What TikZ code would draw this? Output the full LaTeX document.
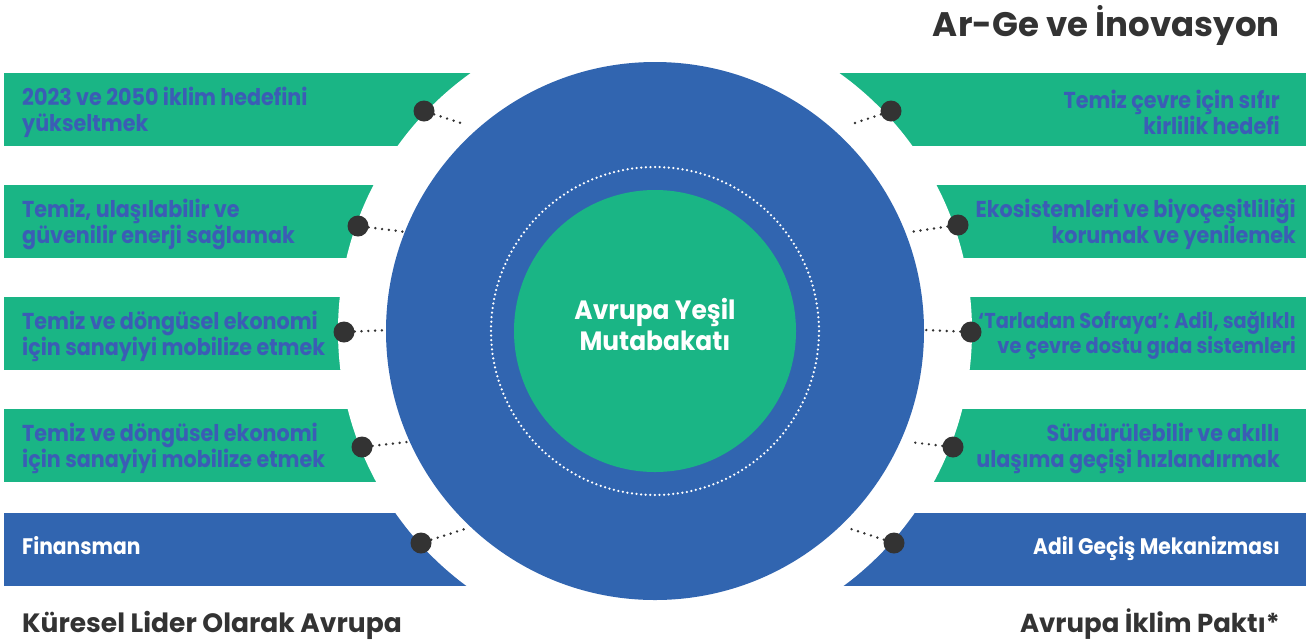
\documentclass[tikz,border=0pt]{standalone}
\usepackage{fontspec}
\setmainfont{Poppins}
\newfontfamily\bannerfont{Poppins}[FakeStretch=0.9]
\newfontfamily\centerfont{Poppins}[FakeStretch=0.94]
\definecolor{bgreen}{HTML}{1AB585}
\definecolor{bblue}{HTML}{3165B0}
\definecolor{tblue}{HTML}{3B5DB5}
\definecolor{dark}{HTML}{333333}
\begin{document}
\begin{tikzpicture}[x=1pt,y=-1pt,
  dotn/.style={circle,fill=dark,inner sep=0pt,minimum size=21pt},
  dotline/.style={draw=dark,line width=2.7pt,line cap=round,dash pattern=on 0pt off 6.8pt},
  gtext/.style={inner sep=0pt,text=tblue,font=\bannerfont\bfseries\fontsize{23}{26}\selectfont},
  wtext/.style={inner sep=0pt,text=white,font=\bannerfont\bfseries\fontsize{22.5}{26}\selectfont},
  head/.style={inner sep=0pt,text=dark,font=\bfseries\fontsize{26.5}{30}\selectfont}]
\useasboundingbox (0,0) rectangle (1309,641);
% banners
\fill[bgreen] (4,73) rectangle (1306,146);
\fill[bgreen] (4,185) rectangle (1306,258);
\fill[bgreen] (4,297) rectangle (1306,370);
\fill[bgreen] (4,409) rectangle (1306,482);
\fill[bblue] (4,513) rectangle (1306,586);
% white gap
\node[circle,fill=white,inner sep=0pt,minimum size=634pt] (gap) at (655,331) {};
% dots
\node[dotn] (l1) at (424,111) {};
\node[dotn] (l2) at (358,226) {};
\node[dotn] (l3) at (344,332) {};
\node[dotn] (l4) at (362,447) {};
\node[dotn] (l5) at (421,543) {};
\node[dotn] (r1) at (891,111) {};
\node[dotn] (r2) at (958,225) {};
\node[dotn] (r3) at (971,332) {};
\node[dotn] (r4) at (953,447) {};
\node[dotn] (r5) at (894,543) {};
\coordinate (el1) at (464,124);
\coordinate (el2) at (406,232);
\coordinate (el3) at (388,330);
\coordinate (el4) at (407,442);
\coordinate (el5) at (468,528);
\coordinate (er1) at (852,124);
\coordinate (er2) at (910,232);
\coordinate (er3) at (926,330);
\coordinate (er4) at (909,442);
\coordinate (er5) at (848,528);
\foreach \i in {1,...,5}{
  \draw[dotline] (l\i) -- (el\i);
  \draw[dotline] (r\i) -- (er\i);
}
% circles
\node[circle,fill=bblue,inner sep=0pt,minimum size=538pt] (big) at (655,331) {};
\node[circle,draw=white,line width=2.5pt,line cap=round,dash pattern=on 0pt off 4.6pt,inner sep=0pt,minimum size=328pt] (ring) at (655,331) {};
\node[circle,fill=bgreen,inner sep=0pt,minimum size=282pt] (core) at (655,331) {};
\node[inner sep=0pt,text=white,align=center,font=\centerfont\bfseries\fontsize{26.5}{31}\selectfont] (title) at (655,324) {Avrupa Yeşil\\Mutabakatı};
% banner texts
\node[gtext,anchor=west,align=left] (t1) at (22,112) {2023 ve 2050 iklim hedefini\\yükseltmek};
\node[gtext,anchor=west,align=left] (t2) at (22,224) {Temiz, ulaşılabilir ve\\güvenilir enerji sağlamak};
\node[gtext,anchor=west,align=left] (t3) at (22,336) {Temiz ve döngüsel ekonomi\\için sanayiyi mobilize etmek};
\node[gtext,anchor=west,align=left] (t4) at (22,448) {Temiz ve döngüsel ekonomi\\için sanayiyi mobilize etmek};
\node[wtext,anchor=base west] (t5) at (22,554) {Finansman};
\node[gtext,anchor=east,align=right] (u1) at (1280,112) {Temiz çevre için sıfır\\kirlilik hedefi};
\node[gtext,anchor=east,align=right] (u2) at (1296,224) {Ekosistemleri ve biyoçeşitliliği\\korumak ve yenilemek};
\node[gtext,anchor=east,align=right,font=\bannerfont\bfseries\fontsize{21.5}{25}\selectfont] (u3) at (1296,335) {‘Tarladan Sofraya’: Adil, sağlıklı\\ve çevre dostu gıda sistemleri};
\node[gtext,anchor=east,align=right] (u4) at (1280,448) {Sürdürülebilir ve akıllı\\ulaşıma geçişi hızlandırmak};
\node[wtext,anchor=base east] (u5) at (1280,554) {Adil Geçiş Mekanizması};
% headings
\node[head,anchor=base east,font=\bfseries\fontsize{34}{38}\selectfont] (h1) at (1280,36) {Ar-Ge ve İnovasyon};
\node[head,anchor=base west] (h2) at (22,632) {Küresel Lider Olarak Avrupa};
\node[head,anchor=base east,font=\bfseries\fontsize{26}{30}\selectfont] (h3) at (1280,632) {Avrupa İklim Paktı*};
\end{tikzpicture}
\end{document}
